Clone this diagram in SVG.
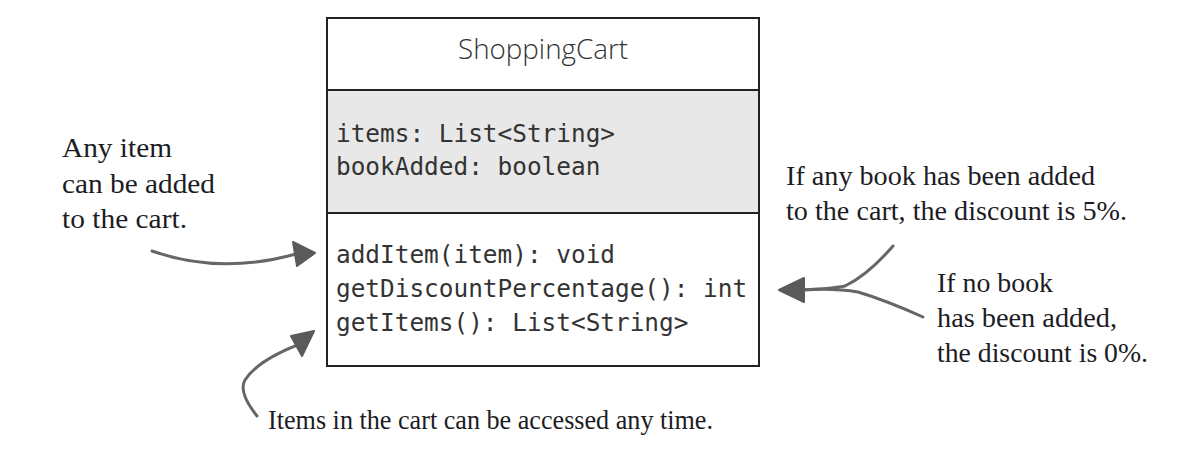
<svg xmlns="http://www.w3.org/2000/svg" width="1199" height="451" viewBox="0 0 1199 451">
<style>
.box{stroke:#222;stroke-width:2;}
.mono{font-family:"DejaVu Sans Mono","Liberation Mono",monospace;font-size:24.4px;fill:#333;}
.title{font-family:"Open Sans","DejaVu Sans",sans-serif;font-size:27px;fill:#333;font-weight:300;}
.note{font-family:"Liberation Serif","DejaVu Serif",serif;font-size:27px;fill:#1c1c24;}
.conn{fill:none;stroke:#666;stroke-width:3;stroke-linecap:round;}
.head{fill:#5a5a5a;stroke:#5a5a5a;stroke-width:2;stroke-linejoin:round;}
</style>
<rect width="1199" height="451" fill="#fff"/>
<g id="shoppingcart">
  <rect class="box" x="327" y="18" width="432" height="72" fill="#fff"/>
  <rect class="box" x="327" y="90" width="432" height="123" fill="#e8e8e8"/>
  <rect class="box" x="327" y="213" width="432" height="153" fill="#fff"/>
  <text class="title" x="543" y="59" text-anchor="middle" textLength="170" lengthAdjust="spacingAndGlyphs">ShoppingCart</text>
  <text class="mono" x="336" y="142">items: List&lt;String&gt;</text>
  <text class="mono" x="336" y="175">bookAdded: boolean</text>
  <text class="mono" x="336" y="263">addItem(item): void</text>
  <text class="mono" x="336" y="297">getDiscountPercentage(): int</text>
  <text class="mono" x="336" y="331">getItems(): List&lt;String&gt;</text>
</g>
<g id="note-add">
  <text class="note" x="62" y="157" textLength="110" lengthAdjust="spacingAndGlyphs">Any item</text>
  <text class="note" x="62" y="193" textLength="153" lengthAdjust="spacingAndGlyphs">can be added</text>
  <text class="note" x="62" y="228" textLength="125" lengthAdjust="spacingAndGlyphs">to the cart.</text>
</g>
<g id="note-discount5">
  <text class="note" x="786" y="185" textLength="309" lengthAdjust="spacingAndGlyphs">If any book has been added</text>
  <text class="note" x="786" y="220" textLength="341" lengthAdjust="spacingAndGlyphs">to the cart, the discount is 5%.</text>
</g>
<g id="note-discount0">
  <text class="note" x="937" y="292" textLength="116" lengthAdjust="spacingAndGlyphs">If no book</text>
  <text class="note" x="937" y="327" textLength="180" lengthAdjust="spacingAndGlyphs">has been added,</text>
  <text class="note" x="937" y="362" textLength="211" lengthAdjust="spacingAndGlyphs">the discount is 0%.</text>
</g>
<g id="note-access">
  <text class="note" x="268" y="429" textLength="445" lengthAdjust="spacingAndGlyphs">Items in the cart can be accessed any time.</text>
</g>
<g id="connectors">
  <path class="conn" d="M152,251 Q220,275 296,254"/>
  <polygon class="head" points="315,253 293,242 297,266"/>
  <path class="conn" d="M257,416 Q238,392 245,380 Q258,360 300,344"/>
  <polygon class="head" points="314,331 291,336 302,356"/>
  <path class="conn" d="M800,290 Q830,289 845,286 Q868,275 893,246"/>
  <path class="conn" d="M800,290 Q835,288 858,292 Q885,300 923,317"/>
  <polygon class="head" points="779,290 804,278 804,302"/>
</g>
</svg>
